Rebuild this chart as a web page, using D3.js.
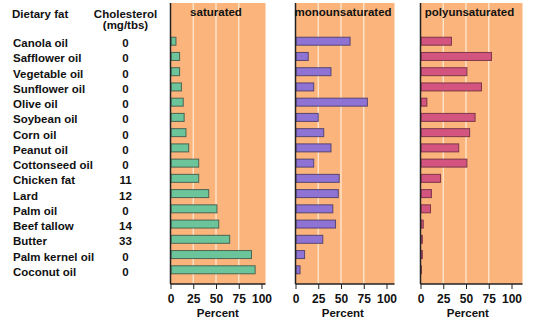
<!DOCTYPE html>
<html><head><meta charset="utf-8">
<script src="https://cdn.jsdelivr.net/npm/d3@7"></script>
<style>body{margin:0;background:#fff}svg{display:block;font-family:"Liberation Sans",Arial,Helvetica,sans-serif}</style>
</head><body><svg id="c" width="536" height="326"></svg>
<script>
const fats = ["Canola oil","Safflower oil","Vegetable oil","Sunflower oil","Olive oil","Soybean oil","Corn oil","Peanut oil","Cottonseed oil","Chicken fat","Lard","Palm oil","Beef tallow","Butter","Palm kernel oil","Coconut oil"];
const cholesterol = [0,0,0,0,0,0,0,0,0,11,12,0,14,33,0,0];
const saturated = [6,10,10,12,14,15,17,20,31,31,42,51,53,65,89,93];
const monounsaturated = [60,14,39,20,79,25,31,39,20,48,47,41,44,30,10,5];
const polyunsaturated = [34,78,51,67,7,60,54,42,51,22,12,11,3,2,2,1];
const seriesNames = ["saturated","monounsaturated","polyunsaturated"];
const xTicks = [0,25,50,75,100];

const svg = d3.select("#c");
const plotTop = 3, plotBottom = 284;
const y = d3.scaleBand().domain(fats).range([33.6, 277.4]).paddingInner(0.475).paddingOuter(0.2375);
const x = d3.scaleLinear().domain([0, 100]).range([0, 91]);
const bw = y.bandwidth();

const panels = [
  {name: seriesNames[0], values: saturated, left: 170.5, width: 95, fill: "#6cc49b", stroke: "#3c5548"},
  {name: seriesNames[1], values: monounsaturated, left: 295.5, width: 99, fill: "#8f73d4", stroke: "#463866"},
  {name: seriesNames[2], values: polyunsaturated, left: 420.5, width: 102, fill: "#d3557f", stroke: "#6a2a3f"}
];

// left headers
svg.append("text").attr("x", 12).attr("y", 18).attr("font-size", 11.5).attr("font-weight", "bold").attr("fill", "#111").text("Dietary fat");
svg.append("text").attr("x", 125.5).attr("y", 18).attr("text-anchor", "middle").attr("font-size", 11.5).attr("font-weight", "bold").attr("fill", "#111").text("Cholesterol");
svg.append("text").attr("x", 125.5).attr("y", 29).attr("text-anchor", "middle").attr("font-size", 11.5).attr("font-weight", "bold").attr("fill", "#111").text("(mg/tbs)");

const rows = svg.append("g");
rows.selectAll("text.fat").data(fats).join("text").attr("class", "fat")
  .attr("x", 13).attr("y", d => y(d) + bw / 2 + 2).attr("dy", "0.35em")
  .attr("font-size", 11.5).attr("font-weight", "bold").attr("fill", "#111").text(d => d);
rows.selectAll("text.chol").data(fats).join("text").attr("class", "chol")
  .attr("x", 125.5).attr("y", d => y(d) + bw / 2 + 2).attr("dy", "0.35em").attr("text-anchor", "middle")
  .attr("font-size", 11.5).attr("font-weight", "bold").attr("fill", "#111").text((d, i) => cholesterol[i]);

panels.forEach(p => {
  const g = svg.append("g").attr("transform", `translate(${p.left},0)`);
  g.append("rect").attr("x", 0).attr("y", plotTop).attr("width", p.width).attr("height", plotBottom - plotTop).attr("fill", "#fbb47b");
  g.selectAll("line.grid").data([25, 50, 75]).join("line").attr("class", "grid")
    .attr("x1", d => x(d)).attr("x2", d => x(d)).attr("y1", plotTop).attr("y2", plotBottom)
    .attr("stroke", "#fff3e6").attr("stroke-width", 1.3).attr("opacity", 0.85);
  g.selectAll("rect.bar").data(p.values).join("rect").attr("class", "bar")
    .attr("x", x(0) + 0.5).attr("y", (d, i) => y(fats[i])).attr("width", d => Math.max(0, x(d) - 0.5)).attr("height", bw)
    .attr("fill", p.fill).attr("stroke", p.stroke).attr("stroke-width", 1).attr("stroke-opacity", 0.85);
  g.append("line").attr("x1", 0).attr("x2", 0).attr("y1", plotTop).attr("y2", plotBottom).attr("stroke", "#222").attr("stroke-width", 1.5);
  const ax = g.append("g").attr("transform", `translate(0,${plotBottom})`)
    .call(d3.axisBottom(x).tickValues(xTicks).tickSize(5).tickPadding(5).tickFormat(d3.format("d")));
  ax.select(".domain").attr("d", `M0,0H${p.width}`).attr("stroke", "#222").attr("stroke-width", 1.3);
  ax.selectAll(".tick line").attr("stroke", "#222");
  ax.selectAll(".tick text").attr("font-size", 12).attr("font-weight", "bold").attr("fill", "#111").attr("font-family", "Liberation Sans, Arial, sans-serif");
  g.append("text").attr("x", x(52)).attr("y", 317).attr("text-anchor", "middle").attr("font-size", 11.5).attr("font-weight", "bold").attr("fill", "#111").text("Percent");
  g.append("text").attr("x", p.width / 2 - 2).attr("y", 16).attr("text-anchor", "middle").attr("font-size", 11.5).attr("font-weight", "bold").attr("fill", "#111").text(p.name);
});
</script></body></html>
